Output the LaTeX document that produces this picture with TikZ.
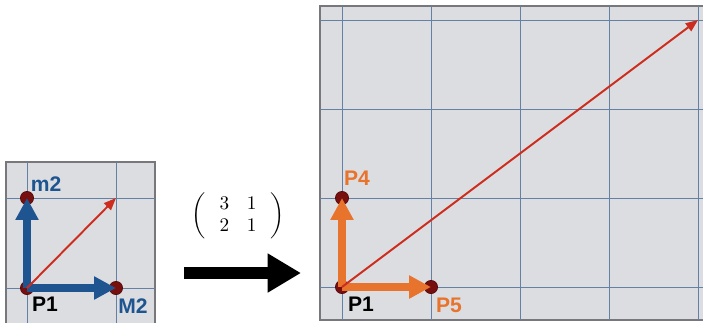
\documentclass[tikz,border=0pt]{standalone}
\usepackage{amsmath}
\usepackage{fontspec}
\setsansfont{Liberation Sans}
\usetikzlibrary{arrows.meta}

\definecolor{gridbg}{RGB}{220,221,224}
\definecolor{gridline}{RGB}{100,128,165}
\definecolor{frame}{RGB}{120,120,124}
\definecolor{vecblue}{RGB}{30,85,145}
\definecolor{vecred}{RGB}{205,45,30}
\definecolor{vecorange}{RGB}{232,115,45}
\definecolor{dotred}{RGB}{120,15,15}

\begin{document}
\begin{tikzpicture}[x=0.02cm, y=-0.02cm,
  panel/.style={fill=gridbg, draw=frame, line width=0.9pt},
  gline/.style={gridline, line width=0.5pt},
  dot/.style={circle, fill=dotred, draw=dotred!70!black, line width=0.4pt, inner sep=0pt, minimum size=7.5pt},
  basis/.style={line width=4pt, -{Triangle[width=12.5pt,length=12.5pt]}},
  diag/.style={vecred, line width=1.1pt, -{Triangle[width=5.5pt,length=7pt]}},
  lbl/.style={font=\sffamily\bfseries\fontsize{12}{12}\selectfont, inner sep=0pt},
  maparr/.style={line width=6.8pt, -{Triangle[width=21pt,length=19pt]}}]
\useasboundingbox (0,0) rectangle (703,322);

% left panel
\draw[panel] (6,162) rectangle (155,340);
\foreach \x in {27,116} \draw[gline] (\x,162) -- (\x,340);
\foreach \y in {198,288} \draw[gline] (6,\y) -- (155,\y);

% right panel
\draw[panel] (320,6) rectangle (720,320);
\foreach \x in {342,431,520,609,698} \draw[gline] (\x,6) -- (\x,320);
\foreach \y in {20,109,198,287} \draw[gline] (320,\y) -- (720,\y);

% points
\node[dot] (p1a) at (27,288) {};
\node[dot] (m2) at (27,198) {};
\node[dot] (M2) at (116,288) {};
\coordinate (sumA) at (116,198);
\node[dot] (p1b) at (342,287) {};
\node[dot] (p4) at (342,198) {};
\node[dot] (p5) at (431,287) {};
\coordinate (sumB) at (698,20);

% vectors
\draw[basis, vecblue] (p1a.center) -- (m2.center);
\draw[basis, vecblue] (p1a.center) -- (M2.center);
\draw[diag] (p1a.center) -- (sumA);
\draw[basis, vecorange] (p1b.center) -- (p4.center);
\draw[basis, vecorange] (p1b.center) -- (p5.center);
\draw[diag] (p1b.center) -- (sumB);

% labels
\node[lbl, vecblue] (m2lbl) at (46,184) {m2};
\node[lbl] (p1albl) at (45,304) {P1};
\node[lbl, vecblue] (M2lbl) at (133,306) {M2};
\node[lbl, vecorange] (p4lbl) at (357,178) {P4};
\node[lbl] (p1blbl) at (361,304) {P1};
\node[lbl, vecorange] (p5lbl) at (449,305) {P5};

% map
\node[font=\fontsize{11}{13}\selectfont] (mat) at (238,216) {$\left(\;\begin{array}{cc} 3 & 1 \\ 2 & 1 \end{array}\;\right)$};
\coordinate (mapfrom) at (184,273);
\coordinate (mapto) at (301,273);
\draw[maparr] (mapfrom) -- (mapto);
\end{tikzpicture}
\end{document}
